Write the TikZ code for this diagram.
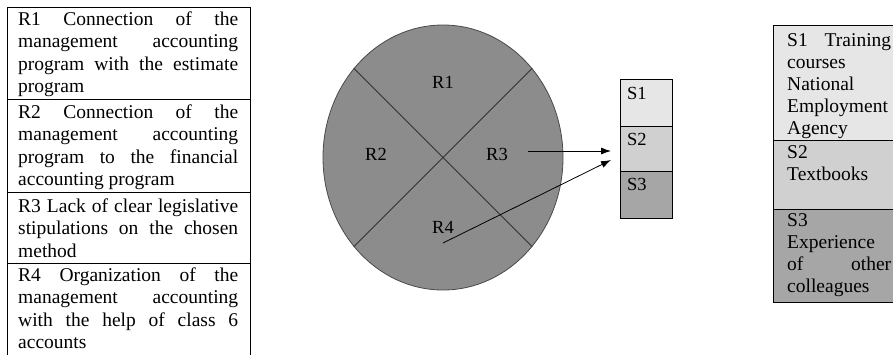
\documentclass[tikz,border=0pt]{standalone}
\usepackage{fontspec}
\setmainfont{Liberation Serif}
\usetikzlibrary{arrows.meta,shapes.geometric}
\newcommand{\Jline}[2]{\makebox[#1][s]{#2}}
\definecolor{discfill}{HTML}{8C8C8C}
\definecolor{discline}{HTML}{4A4A4A}
\definecolor{sone}{HTML}{E6E6E6}
\definecolor{stwo}{HTML}{D0D0D0}
\definecolor{sthree}{HTML}{A6A6A6}
\begin{document}
\begin{tikzpicture}[x=1pt,y=-1pt,
  txt/.style={anchor=north west, inner sep=0pt, align=left, font=\fontsize{19.5}{22.5}\selectfont},
  rtxt/.style={txt, font=\fontsize{19.5}{22}\selectfont},
  lab/.style={font=\fontsize{18.5}{18.5}\selectfont, inner sep=0pt},
  cell/.style={draw=black, line width=0.8pt},
  arr/.style={-{Latex[length=10pt,width=7pt]}, line width=0.8pt}]
\useasboundingbox (0,0) rectangle (893,354);
\clip (0,0) rectangle (893,354);
\fill[white] (0,0) rectangle (893,354);

% ---------- left table ----------
\draw[cell] (7,7) rectangle (250,99);
\draw[cell] (7,99) rectangle (250,192);
\draw[cell] (7,192) rectangle (250,263);
\draw[cell] (7,263) rectangle (250,370);

\node[txt] (r1t) at (18,11) {\rule{0pt}{14pt}\Jline{220pt}{R1 Connection of the}\\
  \Jline{220pt}{management accounting}\\
  \Jline{220pt}{program with the estimate}\\
  program};
\node[txt] (r2t) at (18,104) {\rule{0pt}{14pt}\Jline{220pt}{R2 Connection of the}\\
  \Jline{220pt}{management accounting}\\
  \Jline{220pt}{program to the financial}\\
  accounting program};
\node[txt] (r3t) at (18,198) {\rule{0pt}{14pt}\Jline{220pt}{R3 Lack of clear legislative}\\
  \Jline{220pt}{stipulations on the chosen}\\
  method};
\node[txt] (r4t) at (18,267) {\rule{0pt}{14pt}\Jline{220pt}{R4 Organization of the}\\
  \Jline{220pt}{management accounting}\\
  \Jline{220pt}{with the help of class 6}\\
  accounts};

% ---------- circle ----------
\node[ellipse, draw=discline, fill=discfill, line width=0.8pt,
      minimum width=240pt, minimum height=265pt, inner sep=0pt] (c) at (443,157.5) {};
\draw[line width=0.9pt, black!80] (c.135) -- (c.-45);
\draw[line width=0.9pt, black!80] (c.45) -- (c.-135);
\node[lab] (R1) at (443,82) {R1};
\node[lab] (R2) at (376,154) {R2};
\node[lab] (R3) at (497,154) {R3};
\node[lab] (R4) at (443,227) {R4};

% ---------- S stack ----------
\draw[cell, fill=sone] (620,79) rectangle (672,126);
\draw[cell, fill=stwo] (620,126) rectangle (672,171);
\draw[cell, fill=sthree] (620,171) rectangle (672,218);
\node[lab, anchor=base west] (S1) at (627,99) {S1};
\node[lab, anchor=base west] (S2) at (627,145) {S2};
\node[lab, anchor=base west] (S3) at (627,190) {S3};

% ---------- arrows ----------
\coordinate (a1s) at (528,151);
\coordinate (a1e) at (611,151);
\coordinate (a2s) at (443,243);
\coordinate (a2e) at (611,160);
\draw[arr] (a1s) -- (a1e);
\draw[arr] (a2s) -- (a2e);

% ---------- right table ----------
\draw[cell, fill=sone] (773,25) rectangle (910,140);
\draw[cell, fill=stwo] (773,140) rectangle (910,209);
\draw[cell, fill=sthree] (773,209) rectangle (910,302);

\node[rtxt] (s1t) at (787,32) {\rule{0pt}{14pt}\Jline{104pt}{S1 Training}\\
  courses\\ National\\ Employment\\ Agency};
\node[rtxt] (s2t) at (787,144) {\rule{0pt}{14pt}S2\\ Textbooks};
\node[rtxt] (s3t) at (787,212) {\rule{0pt}{14pt}S3\\ Experience\\
  \Jline{104pt}{of other}\\ colleagues};
\end{tikzpicture}
\end{document}
